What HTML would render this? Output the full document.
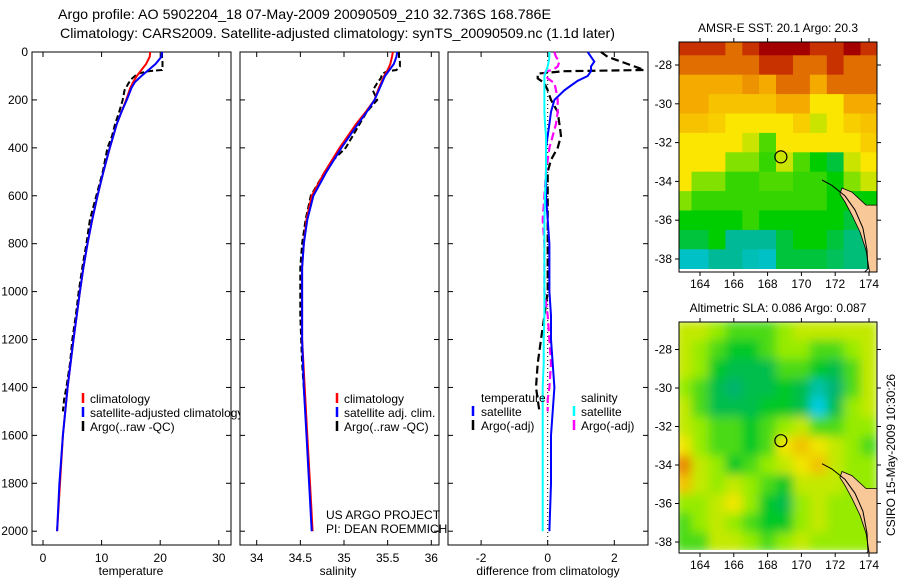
<!DOCTYPE html>
<html><head><meta charset="utf-8"><style>
html,body{margin:0;padding:0;background:#fff;}
svg{display:block;font-family:"Liberation Sans",sans-serif;}
</style></head><body>
<svg id="fig" width="900" height="580" viewBox="0 0 900 580" xmlns="http://www.w3.org/2000/svg">
<defs>
<clipPath id="cm1"><rect x="679" y="42" width="198" height="230"/></clipPath>
<clipPath id="cm2"><rect x="679" y="322" width="198" height="231"/></clipPath>
<filter id="blur" x="-5%" y="-5%" width="110%" height="110%"><feGaussianBlur stdDeviation="5"/></filter>
</defs>
<text x="58" y="19" font-size="14" textLength="493" lengthAdjust="spacingAndGlyphs">Argo profile: AO 5902204_18 07-May-2009 20090509_210 32.736S 168.786E</text>
<text x="60" y="38" font-size="14" textLength="555" lengthAdjust="spacingAndGlyphs">Climatology: CARS2009. Satellite-adjusted climatology: synTS_20090509.nc (1.1d later)</text>
<g id="layer"></g>
</svg>
<script>
// ---------- data ----------
const depthT = [0,20,50,75,100,125,150,200,250,300,400,500,600,700,800,900,1000,1200,1400,1600,1800,2000];
const tempClim = [18.3,18.2,17.6,16.8,16.0,15.4,14.9,14.2,13.4,12.6,11.4,10.3,9.3,8.4,7.6,6.9,6.3,5.2,4.2,3.4,2.9,2.4];
const tempSat = [20.3,20.2,19.2,18.0,16.8,15.7,15.1,14.3,13.4,12.6,11.4,10.3,9.3,8.4,7.6,6.9,6.3,5.2,4.2,3.4,2.8,2.4];
const depthA = [0,20,40,60,75,80,90,110,130,160,200,250,300,350,400,450,500,600,700,800,900,1000,1100,1200,1300,1400,1450,1500];
const tempArgo = [20.3,20.3,20.4,20.4,20.3,18.0,16.2,15.2,14.6,13.9,13.6,13.0,12.3,11.8,11.0,10.6,10.2,9.1,8.0,7.4,6.7,6.1,5.6,5.0,4.6,4.0,3.6,3.4];
const salClim = [35.56,35.55,35.53,35.5,35.46,35.43,35.4,35.35,35.25,35.14,34.95,34.78,34.63,34.57,34.54,34.52,34.52,34.52,34.55,34.58,34.61,34.64];
const salSat = [35.61,35.6,35.57,35.52,35.47,35.44,35.41,35.35,35.26,35.16,34.97,34.8,34.65,34.58,34.54,34.52,34.52,34.52,34.54,34.57,34.6,34.63];
const salArgo = [35.63,35.63,35.64,35.64,35.6,35.5,35.44,35.42,35.38,35.33,35.38,35.26,35.18,35.1,35.02,34.88,34.78,34.62,34.56,34.52,34.5,34.5,34.5,34.51,34.52,34.54,34.55,34.56];
const depthD = [0,20,40,60,80,100,120,140,160,200,250,300,350,400,500,600,700,800,900,1000,1100,1200,1300,1400,1500,1600,1800,2000];
const tSatDiff = [1.2,1.3,1.4,1.3,1.3,1.2,0.9,0.7,0.5,0.2,0.1,0.05,0.0,-0.05,-0.05,-0.05,0,0.05,0.05,0.05,0.1,0.1,0.15,0.2,0.15,0.1,0.1,0.05];
const sSatDiff = [0.05,0.05,0.03,0.0,-0.05,-0.1,-0.1,-0.1,-0.1,-0.1,-0.1,-0.08,-0.05,-0.05,-0.05,-0.08,-0.1,-0.1,-0.1,-0.1,-0.1,-0.12,-0.12,-0.15,-0.15,-0.15,-0.15,-0.15];
const tArgoDiff = [1.6,1.8,2.2,2.6,2.9,0.5,-0.3,-0.3,-0.1,0.0,0.1,0.3,0.35,0.4,0.3,0.1,0.0,0.0,0.0,0.0,0.0,0.0,-0.1,-0.2,-0.3,-0.35,-0.3,-0.25];
const sArgoDiff = [0.2,0.25,0.35,0.3,0.15,-0.05,-0.1,0.0,0.2,0.25,0.3,0.3,0.25,0.15,0.05,0.0,-0.05,-0.1,-0.15,-0.1,-0.1,-0.1,0.0,0.05,0.1,0.05,0.0,0.0];
const depthTicks = [0,200,400,600,800,1000,1200,1400,1600,1800,2000];
const tempTicks = [0,10,20,30];
const salTicks = [34,34.5,35,35.5,36];
const diffTicks = [-2,0,2];
const mapLons = [163,164,165,166,167,168,169,170,171,172,173,174];
const mapLats = [-27,-28,-29,-30,-31,-32,-33,-34,-35,-36,-37,-38];
const lonTicks = [164,166,168,170,172,174];
const latTicks = [-28,-30,-32,-34,-36,-38];
const sstGrid = [
[21.5,21.5,21.5,21,21.5,22,22,22,21.5,21.5,22,21.5],
[21,21,21,21,21,21.5,21.5,21,21,21.5,21,21],
[20.5,20.5,20.5,20.5,20.7,20.5,21,21,20.5,21,21,21],
[20.5,20.5,20.3,20.3,20.3,20.3,20.5,20.5,20,20,20.5,20.5],
[20.3,20.3,20.2,20,20,20,20,20.2,19.8,20,20.2,20.3],
[20,20,20,20,19.8,19.3,20,20,20,20,20,20.2],
[20,20,20,19.5,19.5,19.2,19.8,19.3,19,18.8,19.8,20],
[20,19.5,19.5,19.2,19.2,19.3,19.3,19.2,19.2,19,19.5,19.8],
[19.5,19.2,19.2,19.2,19.2,19.2,19.2,19.2,19.2,19,19,19],
[19,19,19,19,19.2,19,19,19,19,19,18.8,18.8],
[18.8,18.8,19,18.5,18.5,18.5,18.8,19,19,18.8,18.6,18.6],
[18.2,18.2,18.5,18.5,18.3,18.2,18.8,18.8,18.8,18.7,18.6,18.6]];
const slaGrid = [
[.09,.09,.085,.08,.08,.08,.085,.09,.09,.09,.09,.09],
[.09,.085,.08,.075,.075,.08,.085,.085,.08,.08,.085,.09],
[.09,.085,.075,.07,.07,.07,.08,.08,.075,.07,.08,.09],
[.085,.08,.07,.065,.07,.07,.075,.07,.06,.065,.08,.09],
[.09,.08,.07,.07,.07,.075,.075,.07,.055,.07,.085,.09],
[.09,.085,.08,.08,.075,.08,.085,.09,.08,.08,.085,.085],
[.095,.085,.08,.08,.075,.08,.095,.1,.095,.09,.085,.08],
[.11,.09,.085,.075,.08,.085,.09,.095,.1,.09,.085,.085],
[.1,.09,.085,.09,.085,.08,.075,.09,.09,.09,.085,.085],
[.085,.085,.09,.095,.085,.075,.07,.085,.09,.085,.085,.085],
[.08,.085,.09,.085,.08,.075,.075,.085,.09,.085,.085,.085],
[.08,.08,.09,.09,.085,.08,.085,.09,.085,.085,.085,.085]];
const landLon = [172.40,172.99,173.82,174.65,174.65,174.06,173.82,173.47,172.99,172.58,172.28];
const landLat = [-34.34,-34.55,-35.22,-35.22,-38.82,-38.82,-37.54,-36.61,-35.73,-35.06,-34.65];
const shelfLon = [171.22,171.8,172.58,173.17,173.64,173.88,173.94,173.6,172.8];
const shelfLat = [-33.93,-34.2,-34.75,-35.47,-36.4,-37.54,-38.5,-38.8,-39.0];
const floatLon = 168.786, floatLat = -32.736;

// ---------- helpers ----------
const NS = "http://www.w3.org/2000/svg";
const layer = document.getElementById('layer');
function mk(tag, attrs, parent){
  const e = document.createElementNS(NS, tag);
  for (const k in attrs) e.setAttribute(k, attrs[k]);
  (parent||layer).appendChild(e);
  return e;
}
const yD = d => 52 + d*0.2396;
const xT = v => 43 + v*5.86;
const xS = v => 256.7 + (v-34)*87.3;
const xDf = v => 547.7 + v*33.3;

function panel(x0, x1, name){
  const r = mk('rect',{x:x0,y:52,width:x1-x0,height:493,fill:'#fff',stroke:'#000','stroke-width':1});
  
  
}
function line(xs, ds, sx, color, w, dash, name){
  const pts = xs.map((v,i)=> sx(v).toFixed(1)+','+yD(ds[i]).toFixed(1)).join(' ');
  const p = mk('polyline',{points:pts,fill:'none',stroke:color,'stroke-width':w,'stroke-dasharray':dash||'none'});
  
  
}
function txt(x,y,s,opts){
  const t = mk('text',Object.assign({x:x,y:y,'font-size':12},opts||{}));
  t.textContent = s;
  return t;
}
function xTicks(ticks, sx){
  ticks.forEach(v=>{
    const x = sx(v);
    mk('line',{x1:x,x2:x,y1:545,y2:540,stroke:'#000'});
    mk('line',{x1:x,x2:x,y1:52,y2:57,stroke:'#000'});
    const t = txt(x,562,String(v),{'text-anchor':'middle'});
    
    
  });
}
function yTicks(x0,x1,labels){
  depthTicks.forEach(d=>{
    const y = yD(d);
    mk('line',{x1:x0,x2:x0+5,y1:y,y2:y,stroke:'#000'});
    mk('line',{x1:x1,x2:x1-5,y1:y,y2:y,stroke:'#000'});
    if(labels){
      const t = txt(x0-4,y+4,String(d),{'text-anchor':'end'});
      
      
    }
  });
}
function legendEntry(mx, tx, y, color, label, name){
  mk('line',{x1:mx,x2:mx,y1:y-10,y2:y,stroke:color,'stroke-width':2.5});
  const t = txt(tx,y,label);
  
  
}

// ---------- panel 1: temperature ----------
panel(32,231,'temperature-panel');
yTicks(32,231,true);
xTicks(tempTicks,xT);
line(tempArgo, depthA, xT, '#000', 2, '6,3', 'temp-argo-line');
line(tempClim, depthT, xT, '#f00', 2, null, 'temp-climatology-line');
line(tempSat, depthT, xT, '#00f', 2, null, 'temp-satellite-line');
legendEntry(83,90,403,'#f00','climatology','legend-climatology');
legendEntry(83,90,417,'#00f','satellite-adjusted climatology','legend-satellite');
legendEntry(83,90,431,'#000','Argo(..raw -QC)','legend-argo');
{const t=txt(131,575,'temperature',{'text-anchor':'middle'});

}

// ---------- panel 2: salinity ----------
panel(240,439,'salinity-panel');
yTicks(240,439,false);
xTicks(salTicks,xS);
line(salArgo, depthA, xS, '#000', 2, '6,3', 'sal-argo-line');
line(salClim, depthT, xS, '#f00', 2, null, 'sal-climatology-line');
line(salSat, depthT, xS, '#00f', 2, null, 'sal-satellite-line');
legendEntry(337,344,403,'#f00','climatology','legend-sal-climatology');
legendEntry(337,344,417,'#00f','satellite adj. clim.','legend-sal-satellite');
legendEntry(337,344,431,'#000','Argo(..raw -QC)','legend-sal-argo');
{const t=txt(326,519,'US ARGO PROJECT');


const t2=txt(326,533,'PI: DEAN ROEMMICH');


const t3=txt(338,575,'salinity',{'text-anchor':'middle'});

}

// ---------- panel 3: differences ----------
panel(448,648,'difference-panel');
yTicks(448,648,false);
xTicks(diffTicks,xDf);
{const z=mk('line',{x1:xDf(0),x2:xDf(0),y1:52,y2:545,stroke:'#000','stroke-dasharray':'1,3'});

}
line(tArgoDiff, depthA, xDf, '#000', 2.2, '8,4', 'temp-argo-diff-line');
line(sArgoDiff, depthA, xDf, '#f0f', 2.2, '8,4', 'sal-argo-diff-line');
line(tSatDiff, depthD, xDf, '#00f', 2, null, 'temp-satellite-diff-line');
line(sSatDiff, depthD, xDf, '#0ff', 2, null, 'sal-satellite-diff-line');
{const t=txt(481,402,'temperature');
const t2=txt(581,402,'salinity');}
legendEntry(473,481,416,'#00f','satellite','legend-temp-satellite');
legendEntry(473,481,430,'#000','Argo(-adj)','legend-temp-argo');
legendEntry(574,581,416,'#0ff','satellite','legend-sal-satellite-diff');
legendEntry(574,581,430,'#f0f','Argo(-adj)','legend-sal-argo-diff');
{const t=txt(548,575,'difference from climatology',{'text-anchor':'middle'});

}

// ---------- maps ----------
function lerpColor(stops, v){
  if (v<=stops[0][0]) return stops[0][1];
  for(let i=1;i<stops.length;i++){
    if(v<=stops[i][0]){
      const a=stops[i-1], b=stops[i], f=(v-a[0])/(b[0]-a[0]);
      return a[1].map((x,j)=>Math.round(x+(b[1][j]-x)*f));
    }
  }
  return stops[stops.length-1][1];
}
const sstStops = [[18,[0,200,230]],[18.5,[0,185,150]],[19,[0,205,0]],[19.5,[130,225,0]],[20,[250,230,0]],[20.5,[245,170,0]],[21,[225,110,0]],[21.5,[200,50,0]],[22,[165,0,0]]];
const slaStops = [[0.055,[0,205,225]],[0.065,[0,180,110]],[0.075,[0,200,40]],[0.085,[150,235,0]],[0.095,[240,230,0]],[0.105,[240,160,0]],[0.115,[225,110,0]]];

function drawMap(cfg){
  const g = mk('g',{'clip-path':`url(#${cfg.clip})`});
  
  
  mk('rect',{x:679,y:cfg.top,width:198,height:cfg.h,fill:'#fff'},g);
  const cells = mk('g', cfg.blur?{filter:'url(#blur)'}:{}, g);
  cfg.grid.forEach((row,r)=>{
    row.forEach((v,c)=>{
      const x0=cfg.lx(mapLons[c]-0.5), x1=cfg.lx(mapLons[c]+0.5);
      const y0=cfg.ly(mapLats[r]+0.5), y1=cfg.ly(mapLats[r]-0.5);
      const col=lerpColor(cfg.stops,v);
      const e=mk('rect',{x:x0.toFixed(1),y:y0.toFixed(1),width:(x1-x0+0.6).toFixed(1),height:(y1-y0+0.6).toFixed(1),fill:`rgb(${col.join(',')})`},cells);
      
      
    });
  });
  mk('rect',{x:679,y:cfg.top+cfg.h-3,width:198,height:3,fill:'#fff'},g);
  const land = mk('polygon',{points:landLon.map((v,i)=>cfg.lx(v).toFixed(1)+','+cfg.ly(landLat[i]).toFixed(1)).join(' '),fill:'#f9c898',stroke:'#000','stroke-width':0.8},g);
  
  
  const shelf = mk('polyline',{points:shelfLon.map((v,i)=>cfg.lx(v).toFixed(1)+','+cfg.ly(shelfLat[i]).toFixed(1)).join(' '),fill:'none',stroke:'#000','stroke-width':1},g);
  
  
  const c = mk('circle',{cx:cfg.lx(floatLon),cy:cfg.ly(floatLat),r:6,fill:'none',stroke:'#000','stroke-width':1.2},g);
  
  
  const b = mk('rect',{x:679,y:cfg.top,width:198,height:cfg.h,fill:'none',stroke:'#000'});
  
  
  lonTicks.forEach(v=>{
    const x=cfg.lx(v);
    mk('line',{x1:x,x2:x,y1:cfg.top+cfg.h,y2:cfg.top+cfg.h+4,stroke:'#000'});
    mk('line',{x1:x,x2:x,y1:cfg.top,y2:cfg.top-4,stroke:'#000'});
    const t=txt(x,cfg.top+cfg.h+16,String(v),{'text-anchor':'middle'});
    
    
  });
  latTicks.forEach(v=>{
    const y=cfg.ly(v);
    mk('line',{x1:679,x2:675,y1:y,y2:y,stroke:'#000'});
    mk('line',{x1:877,x2:881,y1:y,y2:y,stroke:'#000'});
    const t=txt(672,y+4,String(v),{'text-anchor':'end'});
    
    
  });
  const t=txt(778,cfg.top-10,cfg.title,{'text-anchor':'middle'});
  
  
}
drawMap({name:'sst-map',clip:'cm1',top:42,h:230,grid:sstGrid,stops:sstStops,blur:false,
  lx:v=>700+(v-164)*16.9, ly:v=>65+(-28-v)*19.4, title:'AMSR-E SST: 20.1 Argo: 20.3'});
drawMap({name:'sla-map',clip:'cm2',top:322,h:231,grid:slaGrid,stops:slaStops,blur:true,
  lx:v=>700+(v-164)*16.9, ly:v=>349.5+(-28-v)*19.25, title:'Altimetric SLA: 0.086 Argo: 0.087'});
{const t=txt(0,0,'CSIRO 15-May-2009 10:30:26',{transform:'translate(895,455) rotate(-90)','text-anchor':'middle'});

}
</script>
</body></html>
